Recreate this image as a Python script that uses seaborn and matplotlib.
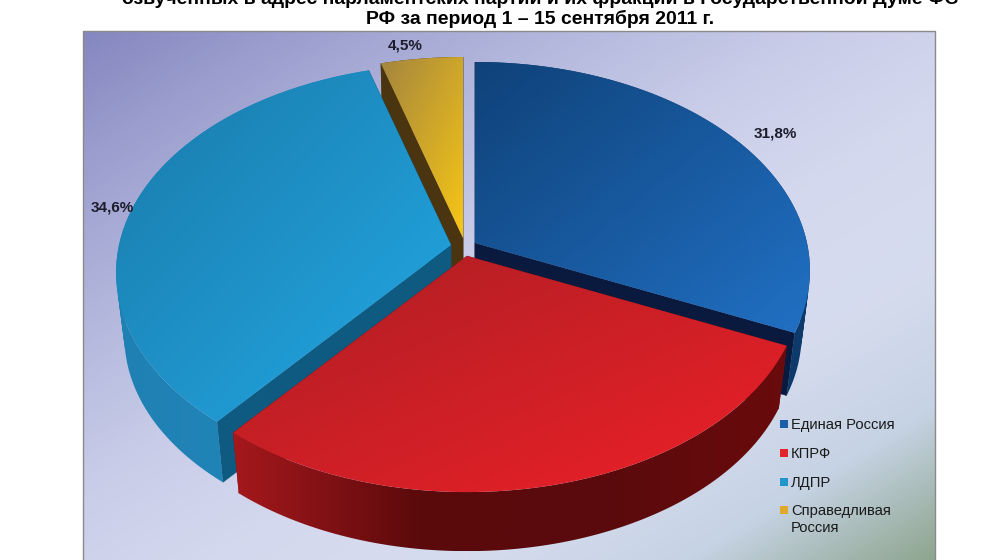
import numpy as np
import matplotlib
matplotlib.use("Agg")
import matplotlib.pyplot as plt
from matplotlib.patches import PathPatch
from matplotlib.path import Path
import seaborn as sns

sns.set_theme(style="white")
plt.rcParams["font.family"] = ["Liberation Sans", "DejaVu Sans"]

title_lines = [
    "озвученных в адрес парламентских партий и их фракций в Государственной Думе ФС",
    "РФ за период 1 – 15 сентября 2011 г.",
]
categories = ["Единая Россия", "КПРФ", "ЛДПР", "Справедливая\nРоссия"]
shares = [31.8, 29.1, 34.6, 4.5]
shown_labels = ["31,8%", None, "34,6%", "4,5%"]

# slice styling, same order as categories
legend_colors = ["#1d5fa8", "#e0262b", "#2196cc", "#e0a92b"]
top_colors = [("#0f4279", "#2170c4"), ("#ab1f24", "#ee1f28"), ("#1a7aa9", "#23a9e6"), ("#a3853f", "#f8c715")]
rim_colors = [("#0d3a6b", "#0d3a6b"), ("#a5181c", "#5c0a0c", "#5a0a0c", "#6a0b0d"),
              ("#1f80b3", "#2389bd"), ("#4a3510", "#4a3510")]
cut_colors = ["#0a1a3f", "#7a1215", "#0e5a80", "#4a3510"]
apexes = [(475, 243), (467, 256), (451, 245), (463, 238)]
label_pos = [(775, 133), None, (112, 207), (405, 45)]
legend_rows = [424, 453, 482, 510]
draw_order = [3, 0, 2, 1]

RX, RY, PERSP = 332, 204.9, 0.132
DEPTH, SHRINK = 65, 0.975


def project(ang, apex):
    rad = np.radians(ang)
    w = 1 + PERSP * np.sin(rad)
    return np.column_stack([apex[0] + RX * np.cos(rad) / w, apex[1] - RY * np.sin(rad) / w])


def lower(pts, apex):
    return np.asarray(apex) + (pts - np.asarray(apex)) * SHRINK + [0, DEPTH]


def wall_path(rim, low):
    # union of small quads, all wound the same way, so the wall keeps its tangent silhouette
    quads = []
    for j in range(len(rim) - 1):
        q = np.array([rim[j], rim[j + 1], low[j + 1], low[j]])
        x, y = q[:, 0], q[:, 1]
        if np.dot(x, np.roll(y, 1)) - np.dot(y, np.roll(x, 1)) < 0:
            q = q[::-1]
        quads.append(Path(np.vstack([q, q[:1]]), closed=True))
    return Path.make_compound_path(*quads)


def gradient_fill(ax, path, stops, zorder, diagonal=True):
    cmap = sns.blend_palette(list(stops), as_cmap=True)
    x0, y0 = path.vertices.min(axis=0)
    x1, y1 = path.vertices.max(axis=0)
    u, v = np.meshgrid(np.linspace(0, 1, 300), np.linspace(0, 1, 300))
    im = ax.imshow((u + v) / 2 if diagonal else u, cmap=cmap, vmin=0, vmax=1,
                   extent=(x0, x1, y1, y0), aspect="auto", zorder=zorder, interpolation="bilinear")
    patch = PathPatch(path, transform=ax.transData, fc="none", ec="none")
    ax.add_patch(patch)
    im.set_clip_path(patch)


fig, ax = plt.subplots(figsize=(10, 5.6), dpi=100)
ax.set_position([0, 0, 1, 1])
ax.axis("off")

# panel background
bg = sns.blend_palette(["#8587c0", "#9fa2d0", "#b4b8dd", "#c8cce8", "#d4d8ee", "#d6dcee", "#c6d3e4", "#8fa690"],
                       as_cmap=True)
u, v = np.meshgrid(np.linspace(0, 1, 300), np.linspace(0, 1, 300))
ax.imshow((u + v) / 2, cmap=bg, extent=(83, 935, 560, 31), aspect="auto", zorder=0)
ax.plot([83, 83, 935, 935], [560, 31, 31, 560], color="#8a8a8a", lw=1, zorder=1)

# slice edges in degrees, clockwise from the top
edges = 90 - np.concatenate([[0], np.cumsum(shares)]) * 3.6

z = 2
for i in draw_order:
    start, end = edges[i], edges[i + 1]
    apex = apexes[i]
    angs = np.linspace(start, end, 121)
    rim = project(angs, apex)
    low = lower(rim, apex)
    apex_low = lower(np.array([apex], dtype=float), apex)[0]

    # two cut faces
    for k in (0, -1):
        ax.fill([apex[0], rim[k, 0], low[k, 0], apex_low[0]],
                [apex[1], rim[k, 1], low[k, 1], apex_low[1]],
                color=cut_colors[i], lw=0.3, zorder=z)
    z += 1

    # outer wall
    gradient_fill(ax, wall_path(rim, low), rim_colors[i], z, diagonal=False)
    z += 1

    top = np.vstack([[apex], rim, [apex]])
    gradient_fill(ax, Path(top, closed=True), top_colors[i], z)
    z += 1

    if shown_labels[i]:
        ax.text(*label_pos[i], shown_labels[i], ha="center", va="center", fontsize=11,
                fontweight="bold", color="#1c1c2c", zorder=50)

ax.text(540, -1, title_lines[0], ha="center", va="center", fontsize=13.95, fontweight="bold",
        color="black", zorder=60)
ax.text(540, 19, title_lines[1], ha="center", va="center", fontsize=13.95, fontweight="bold",
        color="black", zorder=60)

# legend, hand placed since the last label wraps and its swatch sits on the first line
sns.scatterplot(x=[784] * len(legend_rows), y=legend_rows, hue=categories, palette=legend_colors,
                marker="s", s=36, linewidth=0, legend=False, ax=ax, zorder=60)
for name, y in zip(categories, legend_rows):
    ax.text(791, y - 6, name, ha="left", va="top", fontsize=10.6, linespacing=1.25,
            color="#1a1a1a", zorder=60)

ax.set_xlim(0, 1000)
ax.set_ylim(560, 0)
ax.axis("off")

fig.savefig("out.png", dpi=100)
